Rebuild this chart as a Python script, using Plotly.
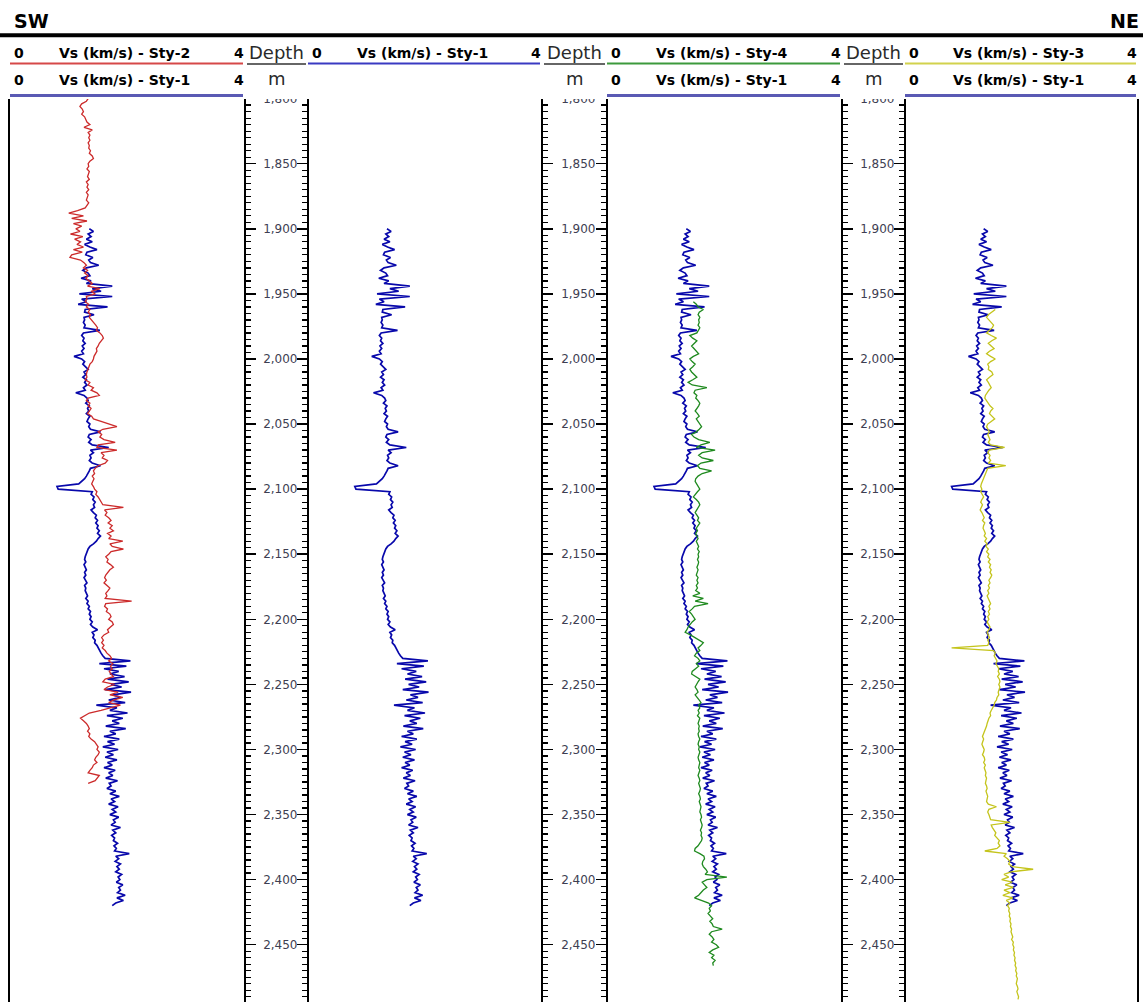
import numpy as np
import plotly.graph_objects as go

W, H = 1143, 1002

# ---------------------------------------------------------------------------
# Shear-wave velocity logs, Vs in km/s, sampled every 2 m from the top depth
# ---------------------------------------------------------------------------
SAMPLE_STEP = 2

STY1_TOP = 1900
vs_sty1 = [
    1.35, 1.42, 1.33, 1.38, 1.30, 1.40, 1.27, 1.36, 1.48, 1.31,
    1.29, 1.41, 1.34, 1.37, 1.51, 1.30, 1.24, 1.33, 1.36, 1.21,
    1.38, 1.30, 1.74, 1.40, 1.55, 1.18, 1.74, 1.22, 1.30, 1.16,
    1.66, 1.28, 1.27, 1.43, 1.26, 1.27, 1.25, 1.28, 1.26, 1.53,
    1.25, 1.22, 1.26, 1.24, 1.28, 1.23, 1.26, 1.22, 1.25, 1.09,
    1.22, 1.27, 1.24, 1.28, 1.33, 1.26, 1.29, 1.24, 1.30, 1.27,
    1.31, 1.25, 1.28, 1.12, 1.26, 1.31, 1.33, 1.29, 1.35, 1.32,
    1.34, 1.30, 1.36, 1.33, 1.31, 1.36, 1.34, 1.37, 1.54, 1.35,
    1.33, 1.38, 1.34, 1.40, 1.68, 1.37, 1.42, 1.36, 1.38, 1.35,
    1.40, 1.54, 1.37, 1.35, 1.33, 1.30, 1.27, 1.22, 1.17, 0.80,
    0.82, 1.40, 1.38, 1.43, 1.41, 1.45, 1.42, 1.44, 1.38, 1.42,
    1.47, 1.45, 1.49, 1.46, 1.50, 1.48, 1.52, 1.49, 1.54, 1.50,
    1.47, 1.42, 1.36, 1.33, 1.31, 1.30, 1.28, 1.27, 1.29, 1.26,
    1.28, 1.30, 1.27, 1.29, 1.26, 1.28, 1.31, 1.27, 1.29, 1.28,
    1.30, 1.32, 1.29, 1.33, 1.31, 1.35, 1.33, 1.37, 1.35, 1.38,
    1.36, 1.40, 1.37, 1.41, 1.49, 1.40, 1.43, 1.41, 1.45, 1.44,
    1.48, 1.50, 1.53, 1.55, 1.58, 1.62, 2.05, 1.52, 1.98, 1.60,
    1.85, 1.70, 1.95, 1.66, 2.02, 1.72, 1.90, 1.62, 2.06, 1.75,
    1.88, 1.68, 1.96, 1.47, 1.82, 1.70, 2.00, 1.65, 1.92, 1.74,
    1.86, 1.63, 1.97, 1.70, 1.80, 1.60, 1.86, 1.66, 1.78, 1.58,
    1.84, 1.65, 1.76, 1.62, 1.82, 1.66, 1.74, 1.60, 1.79, 1.68,
    1.75, 1.63, 1.83, 1.69, 1.72, 1.65, 1.80, 1.70, 1.86, 1.72,
    1.78, 1.68, 1.84, 1.74, 1.80, 1.70, 1.85, 1.76, 1.79, 1.72,
    1.88, 1.75, 1.80, 1.73, 1.78, 1.76, 1.83, 1.77, 1.81, 1.78,
    2.03, 1.80, 1.85, 1.79, 1.88, 1.82, 1.86, 1.80, 1.90, 1.84,
    1.87, 1.81, 1.92, 1.85, 1.88, 1.83, 1.96, 1.82, 1.93, 1.80,
    1.74,
]

STY2_TOP = 1800
vs_sty2 = [
    1.33, 1.30, 1.22, 1.19, 1.23, 1.25, 1.22, 1.27, 1.29, 1.31,
    1.36, 1.26, 1.40, 1.33, 1.36, 1.34, 1.36, 1.33, 1.35, 1.34,
    1.37, 1.35, 1.40, 1.42, 1.36, 1.33, 1.34, 1.31, 1.35, 1.33,
    1.32, 1.35, 1.30, 1.33, 1.31, 1.34, 1.30, 1.33, 1.32, 1.30,
    1.34, 1.31, 1.28, 1.15, 1.00, 1.25, 1.05, 1.31, 1.08, 1.22,
    1.12, 1.19, 1.03, 1.24, 1.10, 1.20, 1.14, 1.25, 1.08, 1.23,
    1.05, 1.02, 1.20, 1.26, 1.30, 1.25, 1.32, 1.27, 1.33, 1.29,
    1.35, 1.40, 1.32, 1.53, 1.38, 1.45, 1.30, 1.31, 1.28, 1.34,
    1.30, 1.36, 1.33, 1.37, 1.35, 1.39, 1.42, 1.46, 1.49, 1.47,
    1.53, 1.57, 1.59, 1.55, 1.52, 1.50, 1.47, 1.48, 1.45, 1.43,
    1.42, 1.40, 1.36, 1.34, 1.33, 1.31, 1.30, 1.31, 1.28, 1.36,
    1.33, 1.42, 1.38, 1.48, 1.52, 1.33, 1.30, 1.36, 1.33, 1.38,
    1.35, 1.32, 1.39, 1.42, 1.55, 1.70, 1.82, 1.58, 1.50, 1.56,
    1.53, 1.60, 1.79, 1.50, 1.48, 1.82, 1.55, 1.60, 1.57, 1.66,
    1.62, 1.50, 1.45, 1.42, 1.44, 1.40, 1.43, 1.41, 1.39, 1.42,
    1.44, 1.48, 1.46, 1.50, 1.53, 1.55, 1.58, 1.93, 1.61, 1.65,
    1.62, 1.68, 1.72, 1.67, 1.74, 1.70, 1.76, 1.66, 1.72, 1.68,
    1.92, 1.70, 1.74, 1.93, 1.72, 1.68, 1.63, 1.67, 1.65, 1.71,
    1.76, 1.70, 1.66, 1.63, 1.61, 1.64, 1.60, 1.66, 1.70, 1.67,
    1.63, 1.65, 1.62, 2.07, 1.63, 1.61, 1.66, 1.64, 1.70, 1.72,
    1.68, 1.74, 1.76, 1.71, 1.66, 1.68, 1.60, 1.56, 1.59, 1.56,
    1.60, 1.57, 1.62, 1.65, 1.70, 1.73, 1.68, 1.75, 1.71, 1.74,
    1.69, 1.72, 1.76, 1.62, 1.58, 1.78, 1.66, 1.60, 1.84, 1.70,
    1.92, 1.76, 1.68, 1.88, 1.72, 1.55, 1.35, 1.28, 1.20, 1.25,
    1.30, 1.33, 1.35, 1.32, 1.36, 1.34, 1.38, 1.44, 1.47, 1.50,
    1.48, 1.52, 1.50, 1.46, 1.44, 1.48, 1.42, 1.40, 1.36, 1.33,
    1.52, 1.48, 1.45, 1.33,
]

STY4_TOP = 1956
vs_sty4 = [
    1.47, 1.52, 1.55, 1.64, 1.57, 1.55, 1.58, 1.56, 1.57, 1.55,
    1.58, 1.56, 1.53, 1.41, 1.46, 1.53, 1.49, 1.44, 1.48, 1.52,
    1.56, 1.47, 1.41, 1.45, 1.50, 1.46, 1.41, 1.44, 1.48, 1.53,
    1.46, 1.38, 1.45, 1.70, 1.50, 1.48, 1.53, 1.51, 1.55, 1.58,
    1.56, 1.53, 1.50, 1.54, 1.57, 1.52, 1.55, 1.58, 1.61, 1.57,
    1.52, 1.44, 1.48, 1.56, 1.75, 1.60, 1.52, 1.84, 1.62, 1.56,
    1.62, 1.81, 1.60, 1.54, 1.58, 1.78, 1.62, 1.55, 1.51, 1.50,
    1.53, 1.56, 1.58, 1.54, 1.50, 1.47, 1.52, 1.56, 1.58, 1.55,
    1.53, 1.50, 1.53, 1.56, 1.54, 1.58, 1.55, 1.52, 1.54, 1.51,
    1.53, 1.55, 1.52, 1.54, 1.56, 1.54, 1.57, 1.55, 1.56, 1.54,
    1.56, 1.55, 1.53, 1.55, 1.54, 1.52, 1.55, 1.53, 1.55, 1.52,
    1.54, 1.51, 1.58, 1.46, 1.64, 1.50, 1.72, 1.49, 1.45, 1.40,
    1.44, 1.47, 1.50, 1.45, 1.41, 1.38, 1.36, 1.33, 1.42, 1.50,
    1.58, 1.64, 1.60, 1.55, 1.58, 1.52, 1.49, 1.55, 1.58, 1.52,
    1.56, 1.50, 1.45, 1.44, 1.52, 1.58, 1.55, 1.52, 1.50, 1.53,
    1.55, 1.50, 1.54, 1.57, 1.60, 1.56, 1.58, 1.55, 1.57, 1.54,
    1.58, 1.56, 1.55, 1.57, 1.56, 1.57, 1.55, 1.56, 1.58, 1.56,
    1.55, 1.57, 1.56, 1.58, 1.57, 1.55, 1.56, 1.58, 1.57, 1.56,
    1.58, 1.57, 1.55, 1.57, 1.58, 1.56, 1.57, 1.59, 1.58, 1.56,
    1.58, 1.59, 1.57, 1.58, 1.60, 1.59, 1.58, 1.60, 1.61, 1.59,
    1.60, 1.62, 1.61, 1.59, 1.61, 1.60, 1.62, 1.61, 1.58, 1.55,
    1.50, 1.49, 1.58, 1.65, 1.66, 1.63, 1.62, 1.64, 1.68, 1.71,
    1.67, 2.04, 1.70, 1.62, 1.66, 1.70, 1.64, 1.60, 1.56, 1.49,
    1.62, 1.73, 1.78, 1.74, 1.76, 1.72, 1.76, 1.80, 1.75, 1.79,
    1.81, 1.96, 1.78, 1.74, 1.79, 1.82, 1.78, 1.86, 1.90, 1.80,
    1.74, 1.82, 1.78, 1.84, 1.80, 1.81,
]

STY3_TOP = 1962
vs_sty3 = [
    1.55, 1.48, 1.43, 1.40, 1.44, 1.47, 1.52, 1.50, 1.45, 1.40,
    1.48, 1.57, 1.49, 1.43, 1.48, 1.53, 1.45, 1.40, 1.47, 1.55,
    1.47, 1.42, 1.44, 1.43, 1.49, 1.51, 1.45, 1.40, 1.43, 1.46,
    1.48, 1.44, 1.41, 1.38, 1.37, 1.40, 1.43, 1.46, 1.51, 1.47,
    1.45, 1.49, 1.54, 1.48, 1.42, 1.40, 1.43, 1.45, 1.42, 1.44,
    1.46, 1.43, 1.47, 1.71, 1.45, 1.42, 1.46, 1.44, 1.47, 1.43,
    1.73, 1.42, 1.40, 1.38, 1.36, 1.35, 1.33, 1.31, 1.30, 1.32,
    1.30, 1.33, 1.35, 1.32, 1.30, 1.33, 1.31, 1.29, 1.32, 1.34,
    1.36, 1.33, 1.37, 1.35, 1.34, 1.36, 1.38, 1.36, 1.40, 1.37,
    1.41, 1.39, 1.43, 1.40, 1.44, 1.42, 1.46, 1.43, 1.47, 1.45,
    1.48, 1.46, 1.49, 1.47, 1.44, 1.46, 1.43, 1.45, 1.42, 1.44,
    1.41, 1.43, 1.45, 1.47, 1.44, 1.46, 1.43, 1.45, 1.42, 1.44,
    1.41, 1.43, 1.46, 1.44, 1.41, 1.43, 1.45, 1.42, 1.44, 1.42,
    0.80, 1.52, 1.55, 1.53, 1.56, 1.58, 1.56, 1.59, 1.61, 1.60,
    1.62, 1.59, 1.62, 1.63, 1.61, 1.63, 1.62, 1.60, 1.61, 1.58,
    1.57, 1.54, 1.53, 1.50, 1.48, 1.46, 1.47, 1.44, 1.42, 1.41,
    1.40, 1.38, 1.36, 1.34, 1.33, 1.35, 1.34, 1.32, 1.34, 1.36,
    1.35, 1.33, 1.36, 1.37, 1.35, 1.38, 1.36, 1.37, 1.39, 1.38,
    1.40, 1.39, 1.38, 1.40, 1.41, 1.39, 1.40, 1.42, 1.41, 1.40,
    1.43, 1.57, 1.44, 1.42, 1.44, 1.46, 1.47, 1.80, 1.48, 1.50,
    1.53, 1.56, 1.54, 1.58, 1.62, 1.60, 1.63, 1.58, 1.37, 1.74,
    1.70, 1.76, 1.80, 1.78, 1.84, 2.20, 1.82, 1.70, 1.78, 1.66,
    1.84, 1.72, 1.86, 1.70, 1.80, 1.68, 1.85, 1.74, 1.80, 1.76,
    1.79, 1.78, 1.80, 1.79, 1.81, 1.80, 1.82, 1.81, 1.83, 1.82,
    1.84, 1.85, 1.83, 1.86, 1.85, 1.87, 1.86, 1.88, 1.87, 1.89,
    1.88, 1.90, 1.89, 1.91, 1.90, 1.92, 1.91, 1.93, 1.92, 1.91,
    1.93, 1.94, 1.92, 1.94, 1.95, 1.94,
]

# depth scale
depth_ticks = list(range(1800, 2451, 50))
DEPTH_TOP, DEPTH_BOTTOM = 1799.9, 2494.0
VS_MIN, VS_MAX = 0, 4


def depths(top, values):
    return top + SAMPLE_STEP * np.arange(len(values))


# ---------------------------------------------------------------------------
# page geometry (pixels)
# ---------------------------------------------------------------------------
PLOT_TOP = 98.5
track_px = [(10, 245), (308, 542), (607, 842), (905, 1138)]
depth_cols = [(245, 308), (542, 607), (842, 905)]

BLUE = "#0808ab"
RED = "#cc2b2b"
GREEN = "#1f8a1f"
YELLOW = "#c4c41c"


def px(x):
    return x / W


def py(y):
    return 1 - y / H


fig = go.Figure()

track_axes = ["x", "x2", "x3", "x4"]
curves = [
    [(vs_sty1, STY1_TOP, BLUE, "Sty-1"), (vs_sty2, STY2_TOP, RED, "Sty-2")],
    [(vs_sty1, STY1_TOP, BLUE, "Sty-1")],
    [(vs_sty1, STY1_TOP, BLUE, "Sty-1"), (vs_sty4, STY4_TOP, GREEN, "Sty-4")],
    [(vs_sty1, STY1_TOP, BLUE, "Sty-1"), (vs_sty3, STY3_TOP, YELLOW, "Sty-3")],
]
for xa, track_curves in zip(track_axes, curves):
    for vals, top, color, name in track_curves:
        fig.add_trace(go.Scatter(
            x=vals, y=depths(top, vals), xaxis=xa, yaxis="y",
            mode="lines", name=name, showlegend=False,
            line=dict(color=color, width=1.7 if color == BLUE else 1.3),
        ))

layout = dict(
    width=W, height=H, autosize=False,
    margin=dict(l=0, r=0, t=0, b=0, pad=0),
    paper_bgcolor="white", plot_bgcolor="white",
    hovermode=False, showlegend=False,
)

y_domain = [0, py(PLOT_TOP)]
for i, (x0, x1) in enumerate(track_px):
    key = "xaxis" if i == 0 else f"xaxis{i + 1}"
    layout[key] = dict(domain=[px(x0), px(x1)], range=[VS_MIN, VS_MAX],
                       anchor="y", visible=False, fixedrange=True,
                       automargin=False)

# main depth axis: its line is the left border of the first track
layout["yaxis"] = dict(domain=y_domain, range=[DEPTH_BOTTOM, DEPTH_TOP],
                       anchor="x", showline=True, linecolor="black",
                       linewidth=2, ticks="", showticklabels=False,
                       showgrid=False, zeroline=False, fixedrange=True,
                       automargin=False)

minor_ticks = dict(ticks="outside", ticklen=5, tickwidth=1.3,
                   tickcolor="black", tickmode="linear", tick0=1800, dtick=5,
                   showgrid=False)

extra_axes = []
# borders of the depth columns, ticks pointing into the column
for (c0, c1) in depth_cols:
    extra_axes.append(dict(position=px(c0), side="right", ticks="outside"))
    extra_axes.append(dict(position=px(c1), side="left", ticks="outside"))

n = 2
extra_ids = []
for spec in extra_axes:
    layout[f"yaxis{n}"] = dict(
        overlaying="y", anchor="free", position=spec["position"],
        side=spec["side"], range=[DEPTH_BOTTOM, DEPTH_TOP],
        showline=True, linecolor="black", linewidth=2,
        ticks=spec["ticks"], ticklen=10, tickwidth=1.5, tickcolor="black",
        tickmode="array", tickvals=depth_ticks, showticklabels=False,
        minor=minor_ticks, showgrid=False, zeroline=False, fixedrange=True,
        automargin=False,
    )
    extra_ids.append(f"y{n}")
    n += 1

# right border of the last track
layout[f"yaxis{n}"] = dict(
    overlaying="y", anchor="free", position=px(1138), side="right",
    range=[DEPTH_BOTTOM, DEPTH_TOP], showline=True, linecolor="black",
    linewidth=2, ticks="", showticklabels=False, showgrid=False,
    zeroline=False, fixedrange=True, automargin=False,
)
extra_ids.append(f"y{n}")
n += 1

# depth labels centred in each depth column
for (c0, c1) in depth_cols:
    label_right = (c0 + c1) / 2 + 21
    layout[f"yaxis{n}"] = dict(
        overlaying="y", anchor="free", position=px(label_right), side="left",
        range=[DEPTH_BOTTOM, DEPTH_TOP], showline=False, ticks="",
        tickmode="array", tickvals=depth_ticks, tickformat=",d",
        tickfont=dict(family="DejaVu Sans", size=12, color="#3e3e52"),
        showgrid=False, zeroline=False, fixedrange=True, automargin=False,
    )
    extra_ids.append(f"y{n}")
    n += 1

# empty traces so every overlaid depth axis gets its own subplot
for yid in extra_ids:
    fig.add_trace(go.Scatter(x=[], y=[], xaxis="x", yaxis=yid,
                             mode="lines", showlegend=False, hoverinfo="skip"))

# ---------------------------------------------------------------------------
# header band
# ---------------------------------------------------------------------------
ROW1_Y, ROW2_Y = 53, 80
LINE1_Y, LINE2_Y = 63.5, 95.5

headers = [
    [("Vs (km/s) - Sty-2", "#d64848", 2), ("Vs (km/s) - Sty-1", "#5a5ab4", 3)],
    [("Vs (km/s) - Sty-1", "#3a3ac2", 2)],
    [("Vs (km/s) - Sty-4", "#3c9a3c", 2), ("Vs (km/s) - Sty-1", "#5a5ab4", 3)],
    [("Vs (km/s) - Sty-3", "#d2d24c", 2), ("Vs (km/s) - Sty-1", "#5a5ab4", 3)],
]

shapes = [
    # white band hiding anything drawn above the tracks
    dict(type="rect", xref="paper", yref="paper", x0=0, x1=1, y0=py(PLOT_TOP + 0.5), y1=1,
         fillcolor="white", line=dict(width=0), layer="above"),
    dict(type="line", xref="paper", yref="paper", x0=0, x1=1, y0=py(35.3), y1=py(35.3),
         line=dict(color="black", width=4), layer="above"),
]
annotations = [
    dict(text="<b>SW</b>", x=px(12), y=py(21), xanchor="left", yanchor="middle",
         font=dict(family="DejaVu Sans", size=19, color="black")),
    dict(text="<b>NE</b>", x=px(1141), y=py(21), xanchor="right", yanchor="middle",
         font=dict(family="DejaVu Sans", size=19, color="black")),
]

bold = dict(family="DejaVu Sans", size=14, color="black")
for (x0, x1), rows in zip(track_px, headers):
    for (title, ucolor, uwidth), ty, ly in zip(rows, (ROW1_Y, ROW2_Y), (LINE1_Y, LINE2_Y)):
        annotations += [
            dict(text="<b>0</b>", x=px(x0 + 2), y=py(ty), xanchor="left", yanchor="middle", font=bold),
            dict(text=f"<b>{title}</b>", x=px((x0 + x1) / 2 - 3), y=py(ty),
                 xanchor="center", yanchor="middle", font=bold),
            dict(text="<b>4</b>", x=px(x1 + 1), y=py(ty), xanchor="right", yanchor="middle", font=bold),
        ]
        shapes.append(dict(type="line", xref="paper", yref="paper",
                           x0=px(x0), x1=px(x1 - 2), y0=py(ly), y1=py(ly),
                           line=dict(color=ucolor, width=uwidth), layer="above"))

for (c0, c1) in depth_cols:
    cx = (c0 + c1) / 2
    annotations += [
        dict(text="Depth", x=px(cx), y=py(ROW1_Y - 1), xanchor="center", yanchor="middle",
             font=dict(family="DejaVu Sans", size=18, color="#2a2a2a")),
        dict(text="m", x=px(cx), y=py(ROW2_Y - 1), xanchor="center", yanchor="middle",
             font=dict(family="DejaVu Sans", size=18, color="#2a2a2a")),
    ]
    shapes.append(dict(type="line", xref="paper", yref="paper",
                       x0=px(c0 + 2), x1=px(c1 - 2), y0=py(LINE1_Y + 0.5), y1=py(LINE1_Y + 0.5),
                       line=dict(color="#666666", width=2), layer="above"))

for a in annotations:
    a.update(xref="paper", yref="paper", showarrow=False)

layout["shapes"] = shapes
layout["annotations"] = annotations
fig.update_layout(**layout)

fig.write_html("out.html", config={"displayModeBar": False, "staticPlot": True})
